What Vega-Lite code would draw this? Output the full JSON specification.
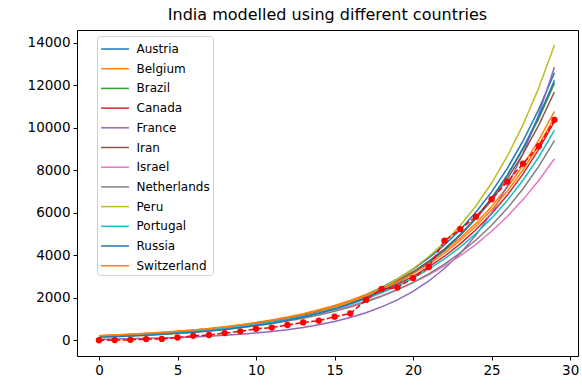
{
  "$schema": "https://vega.github.io/schema/vega-lite/v6.json",
  "width": 501,
  "height": 326,
  "autosize": {"type": "none"},
  "padding": {"left": 77, "top": 30, "right": 4, "bottom": 31},
  "background": "white",
  "title": {
    "text": "India modelled using different countries",
    "font": "DejaVu Sans",
    "fontSize": 16,
    "fontWeight": "normal",
    "color": "black",
    "anchor": "middle",
    "offset": 7
  },
  "data": {
    "values": [
      {"x": 0, "India": 0, "Austria": 176, "Belgium": 218, "Brazil": 165, "Canada": 196, "France": 50, "Iran": 184, "Israel": 211, "Netherlands": 174, "Peru": 145, "Portugal": 196, "Russia": 153, "Switzerland": 215},
      {"x": 1, "India": 10, "Austria": 204, "Belgium": 250, "Brazil": 192, "Canada": 225, "France": 61, "Iran": 213, "Israel": 240, "Netherlands": 199, "Peru": 169, "Portugal": 224, "Russia": 178, "Switzerland": 246},
      {"x": 2, "India": 20, "Austria": 236, "Belgium": 286, "Brazil": 222, "Canada": 258, "France": 74, "Iran": 246, "Israel": 273, "Netherlands": 229, "Peru": 198, "Portugal": 256, "Russia": 207, "Switzerland": 281},
      {"x": 3, "India": 55, "Austria": 273, "Belgium": 327, "Brazil": 258, "Canada": 295, "France": 90, "Iran": 283, "Israel": 310, "Netherlands": 263, "Peru": 232, "Portugal": 294, "Russia": 241, "Switzerland": 321},
      {"x": 4, "India": 65, "Austria": 317, "Belgium": 374, "Brazil": 299, "Canada": 338, "France": 108, "Iran": 327, "Israel": 352, "Netherlands": 301, "Peru": 271, "Portugal": 336, "Russia": 280, "Switzerland": 367},
      {"x": 5, "India": 130, "Austria": 367, "Belgium": 428, "Brazil": 347, "Canada": 388, "France": 131, "Iran": 377, "Israel": 400, "Netherlands": 346, "Peru": 318, "Portugal": 385, "Russia": 326, "Switzerland": 420},
      {"x": 6, "India": 210, "Austria": 425, "Belgium": 489, "Brazil": 402, "Canada": 445, "France": 159, "Iran": 435, "Israel": 454, "Netherlands": 397, "Peru": 372, "Portugal": 440, "Russia": 379, "Switzerland": 480},
      {"x": 7, "India": 250, "Austria": 493, "Belgium": 560, "Brazil": 466, "Canada": 510, "France": 192, "Iran": 502, "Israel": 516, "Netherlands": 455, "Peru": 435, "Portugal": 504, "Russia": 441, "Switzerland": 549},
      {"x": 8, "India": 340, "Austria": 571, "Belgium": 640, "Brazil": 540, "Canada": 585, "France": 233, "Iran": 580, "Israel": 587, "Netherlands": 522, "Peru": 509, "Portugal": 577, "Russia": 513, "Switzerland": 628},
      {"x": 9, "India": 420, "Austria": 661, "Belgium": 733, "Brazil": 626, "Canada": 670, "France": 282, "Iran": 669, "Israel": 666, "Netherlands": 599, "Peru": 596, "Portugal": 661, "Russia": 597, "Switzerland": 718},
      {"x": 10, "India": 540, "Austria": 766, "Belgium": 838, "Brazil": 726, "Canada": 768, "France": 341, "Iran": 772, "Israel": 757, "Netherlands": 688, "Peru": 698, "Portugal": 756, "Russia": 694, "Switzerland": 821},
      {"x": 11, "India": 600, "Austria": 888, "Belgium": 959, "Brazil": 842, "Canada": 881, "France": 413, "Iran": 890, "Israel": 860, "Netherlands": 789, "Peru": 817, "Portugal": 866, "Russia": 807, "Switzerland": 939},
      {"x": 12, "India": 720, "Austria": 1029, "Belgium": 1097, "Brazil": 977, "Canada": 1010, "France": 500, "Iran": 1027, "Israel": 977, "Netherlands": 905, "Peru": 956, "Portugal": 991, "Russia": 939, "Switzerland": 1074},
      {"x": 13, "India": 840, "Austria": 1192, "Belgium": 1254, "Brazil": 1133, "Canada": 1158, "France": 606, "Iran": 1185, "Israel": 1110, "Netherlands": 1039, "Peru": 1119, "Portugal": 1135, "Russia": 1092, "Switzerland": 1228},
      {"x": 14, "India": 920, "Austria": 1382, "Belgium": 1435, "Brazil": 1313, "Canada": 1327, "France": 733, "Iran": 1367, "Israel": 1261, "Netherlands": 1192, "Peru": 1310, "Portugal": 1299, "Russia": 1270, "Switzerland": 1405},
      {"x": 15, "India": 1110, "Austria": 1601, "Belgium": 1641, "Brazil": 1523, "Canada": 1521, "France": 887, "Iran": 1578, "Israel": 1433, "Netherlands": 1368, "Peru": 1533, "Portugal": 1488, "Russia": 1477, "Switzerland": 1606},
      {"x": 16, "India": 1260, "Austria": 1855, "Belgium": 1878, "Brazil": 1766, "Canada": 1744, "France": 1074, "Iran": 1820, "Israel": 1628, "Netherlands": 1570, "Peru": 1795, "Portugal": 1703, "Russia": 1718, "Switzerland": 1837},
      {"x": 17, "India": 1900, "Austria": 2150, "Belgium": 2148, "Brazil": 2048, "Canada": 1999, "France": 1300, "Iran": 2100, "Israel": 1849, "Netherlands": 1802, "Peru": 2101, "Portugal": 1950, "Russia": 1998, "Switzerland": 2100},
      {"x": 18, "India": 2420, "Austria": 2492, "Belgium": 2457, "Brazil": 2375, "Canada": 2292, "France": 1574, "Iran": 2423, "Israel": 2101, "Netherlands": 2068, "Peru": 2459, "Portugal": 2232, "Russia": 2324, "Switzerland": 2402},
      {"x": 19, "India": 2480, "Austria": 2887, "Belgium": 2810, "Brazil": 2753, "Canada": 2627, "France": 1905, "Iran": 2796, "Israel": 2387, "Netherlands": 2373, "Peru": 2878, "Portugal": 2555, "Russia": 2702, "Switzerland": 2746},
      {"x": 20, "India": 2930, "Austria": 3346, "Belgium": 3215, "Brazil": 3193, "Canada": 3012, "France": 2306, "Iran": 3226, "Israel": 2712, "Netherlands": 2723, "Peru": 3369, "Portugal": 2925, "Russia": 3143, "Switzerland": 3141},
      {"x": 21, "India": 3450, "Austria": 3877, "Belgium": 3677, "Brazil": 3702, "Canada": 3453, "France": 2792, "Iran": 3722, "Israel": 3081, "Netherlands": 3125, "Peru": 3944, "Portugal": 3349, "Russia": 3656, "Switzerland": 3591},
      {"x": 22, "India": 4690, "Austria": 4492, "Belgium": 4206, "Brazil": 4293, "Canada": 3958, "France": 3379, "Iran": 4294, "Israel": 3500, "Netherlands": 3587, "Peru": 4616, "Portugal": 3834, "Russia": 4252, "Switzerland": 4107},
      {"x": 23, "India": 5230, "Austria": 5205, "Belgium": 4812, "Brazil": 4978, "Canada": 4538, "France": 4091, "Iran": 4955, "Israel": 3976, "Netherlands": 4116, "Peru": 5404, "Portugal": 4389, "Russia": 4945, "Switzerland": 4696},
      {"x": 24, "India": 5820, "Austria": 6031, "Belgium": 5504, "Brazil": 5772, "Canada": 5202, "France": 4952, "Iran": 5717, "Israel": 4517, "Netherlands": 4723, "Peru": 6325, "Portugal": 5024, "Russia": 5751, "Switzerland": 5370},
      {"x": 25, "India": 6640, "Austria": 6989, "Belgium": 6296, "Brazil": 6693, "Canada": 5964, "France": 5994, "Iran": 6596, "Israel": 5132, "Netherlands": 5420, "Peru": 7404, "Portugal": 5752, "Russia": 6689, "Switzerland": 6141},
      {"x": 26, "India": 7470, "Austria": 8098, "Belgium": 7202, "Brazil": 7761, "Canada": 6837, "France": 7256, "Iran": 7611, "Israel": 5831, "Netherlands": 6220, "Peru": 8667, "Portugal": 6585, "Russia": 7780, "Switzerland": 7022},
      {"x": 27, "India": 8320, "Austria": 9384, "Belgium": 8238, "Brazil": 8999, "Canada": 7837, "France": 8783, "Iran": 8781, "Israel": 6624, "Netherlands": 7138, "Peru": 10145, "Portugal": 7538, "Russia": 9049, "Switzerland": 8030},
      {"x": 28, "India": 9140, "Austria": 10874, "Belgium": 9424, "Brazil": 10435, "Canada": 8985, "France": 10632, "Iran": 10132, "Israel": 7526, "Netherlands": 8191, "Peru": 11875, "Portugal": 8630, "Russia": 10524, "Switzerland": 9182},
      {"x": 29, "India": 10380, "Austria": 12600, "Belgium": 10780, "Brazil": 12100, "Canada": 10300, "France": 12870, "Iran": 11690, "Israel": 8550, "Netherlands": 9400, "Peru": 13900, "Portugal": 9880, "Russia": 12240, "Switzerland": 10500}
    ]
  },
  "encoding": {
    "x": {
      "field": "x",
      "type": "quantitative",
      "scale": {"domain": [-1.4, 30.5], "nice": false, "zero": false},
      "axis": {"values": [0, 5, 10, 15, 20, 25, 30], "format": "d", "title": null}
    }
  },
  "layer": [
    {
      "transform": [
        {"fold": ["Austria", "Belgium", "Brazil", "Canada", "France", "Iran", "Israel", "Netherlands", "Peru", "Portugal", "Russia", "Switzerland"], "as": ["country", "cases"]}
      ],
      "mark": {"type": "line", "strokeWidth": 1.5},
      "encoding": {
        "y": {
          "field": "cases",
          "type": "quantitative",
          "scale": {"domain": [-740, 14610], "nice": false, "zero": false},
          "axis": {"values": [0, 2000, 4000, 6000, 8000, 10000, 12000, 14000], "format": "d", "title": null}
        },
        "color": {
          "field": "country",
          "type": "nominal",
          "scale": {
            "domain": ["Austria", "Belgium", "Brazil", "Canada", "France", "Iran", "Israel", "Netherlands", "Peru", "Portugal", "Russia", "Switzerland"],
            "range": ["#1f77b4", "#ff7f0e", "#2ca02c", "#d62728", "#9467bd", "#8c564b", "#e377c2", "#7f7f7f", "#bcbd22", "#17becf", "#1f77b4", "#ff7f0e"]
          },
          "legend": {
            "orient": "none",
            "legendX": 20,
            "legendY": 6,
            "title": null,
            "symbolType": "M-1.55,0H1.55",
            "symbolSize": 324,
            "symbolStrokeWidth": 1.5,
            "symbolOffset": 5,
            "labelOffset": 11.5,
            "labelFont": "DejaVu Sans",
            "labelFontSize": 12,
            "labelColor": "black",
            "rowPadding": 3.7,
            "padding": 3,
            "fillColor": "rgba(255,255,255,0.8)",
            "strokeColor": "#d0d0d0",
            "cornerRadius": 3
          }
        }
      }
    },
    {
      "mark": {"type": "line", "color": "#ff0000", "strokeWidth": 1.5, "strokeDash": [5.5, 2.4]},
      "encoding": {
        "y": {"field": "India", "type": "quantitative", "scale": {"domain": [-740, 14610], "nice": false, "zero": false}}
      }
    },
    {
      "mark": {"type": "circle", "color": "#ff0000", "size": 40, "opacity": 1},
      "encoding": {
        "y": {"field": "India", "type": "quantitative", "scale": {"domain": [-740, 14610], "nice": false, "zero": false}}
      }
    }
  ],
  "config": {
    "view": {"stroke": "black", "strokeWidth": 1},
    "font": "DejaVu Sans",
    "axis": {
      "domain": false,
      "grid": false,
      "ticks": true,
      "tickColor": "black",
      "tickSize": 4,
      "tickWidth": 1,
      "labelFont": "DejaVu Sans",
      "labelFontSize": 13.5,
      "labelColor": "black",
      "labelPadding": 3
    }
  }
}
